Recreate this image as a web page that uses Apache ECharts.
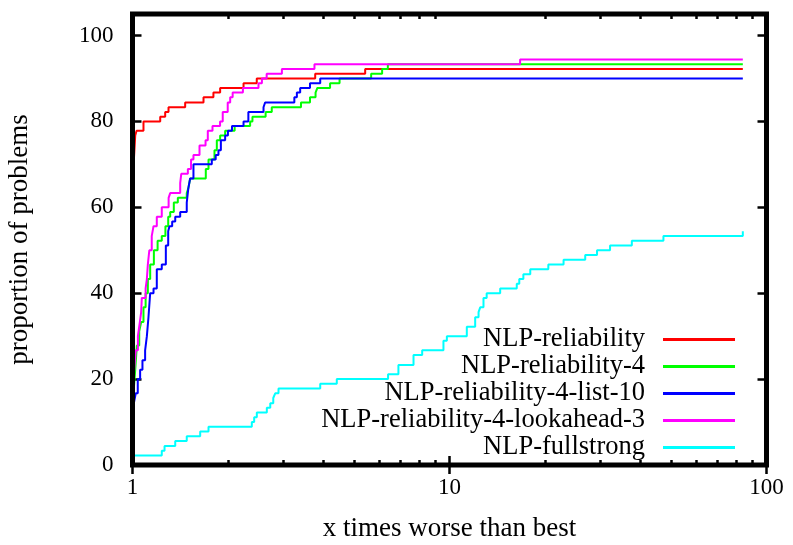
<!DOCTYPE html>
<html><head><meta charset="utf-8">
<script src="https://cdn.jsdelivr.net/npm/echarts@6/dist/echarts.min.js"></script>
<style>html,body{margin:0;padding:0;background:#fff}#c{width:793px;height:545px}</style>
</head><body><div id="c"></div>
<script>
const seriesNames = ['NLP-reliability', 'NLP-reliability-4', 'NLP-reliability-4-list-10', 'NLP-reliability-4-lookahead-3', 'NLP-fullstrong'];
const seriesColors = ['#ff0000', '#00ff00', '#0000ff', '#ff00ff', '#00ffff'];

const redX = [1, 1.005, 1.01, 1.02, 1.03, 1.083, 1.223, 1.268, 1.299, 1.466, 1.675, 1.8, 1.89, 2.24, 2.466, 3.77, 5.42, 84.2];
const redY = [64.4, 68.9, 71.1, 76.7, 77.8, 80, 81.1, 82.2, 83.3, 84.4, 85.6, 86.7, 87.8, 88.9, 90, 91.1, 92.2, 92.2];

const greenX = [1, 1.007, 1.02, 1.032, 1.05, 1.065, 1.083, 1.10, 1.118, 1.137, 1.168, 1.2, 1.237, 1.27, 1.296, 1.315, 1.35, 1.39, 1.483, 1.50, 1.52, 1.703, 1.737, 1.814, 1.845, 1.89, 1.96, 2.10, 2.35, 2.39, 2.63, 2.75, 3.4, 3.63, 3.78, 3.83, 4.2, 4.5, 5.66, 6.13, 6.39, 84.2];
const greenY = [12.2, 16.7, 22.2, 27.8, 31.1, 33.3, 36.7, 40, 43.3, 46.7, 50, 52.2, 53.3, 55.6, 57.8, 58.9, 61.1, 62.2, 63.3, 64.4, 66.7, 68.9, 71.1, 73.3, 75.6, 76.7, 77.8, 78.9, 80, 81.1, 82.2, 83.3, 84.4, 85.6, 86.7, 87.8, 88.9, 90, 91.1, 92.2, 93.3, 93.3];

const blueX = [1, 1.01, 1.024, 1.039, 1.057, 1.075, 1.096, 1.11, 1.123, 1.137, 1.165, 1.193, 1.237, 1.274, 1.296, 1.308, 1.334, 1.364, 1.414, 1.483, 1.50, 1.52, 1.557, 1.779, 1.83, 1.867, 1.9, 1.96, 2.0, 2.06, 2.24, 2.32, 2.59, 2.62, 3.24, 3.30, 3.38, 3.63, 3.91, 84.2];
const blueY = [11.1, 14.4, 16.7, 20, 22.2, 24.4, 26.7, 30, 34.4, 40, 41.1, 45.6, 46.7, 51.1, 54.4, 55.6, 56.7, 57.8, 58.9, 61.1, 64.4, 66.7, 70, 71.1, 72.2, 73.3, 75.6, 76.7, 77.8, 78.9, 80, 82.2, 83.3, 84.4, 85.6, 86.7, 87.8, 88.9, 90, 90];

const magentaX = [1, 1.007, 1.015, 1.024, 1.04, 1.055, 1.065, 1.07, 1.10, 1.11, 1.118, 1.13, 1.15, 1.165, 1.193, 1.237, 1.30, 1.315, 1.414, 1.425, 1.495, 1.53, 1.557, 1.627, 1.70, 1.728, 1.788, 1.889, 1.926, 1.997, 2.033, 2.07, 2.23, 2.497, 2.56, 2.65, 2.96, 3.75, 16.7, 84.2];
const magentaY = [16.7, 20, 23.3, 26.7, 30, 33.3, 35.6, 38.9, 41.1, 43.3, 46.7, 50, 53.3, 55.6, 57.8, 60, 62.2, 63.3, 65.6, 67.8, 68.9, 71.1, 72.2, 74.4, 75.6, 77.8, 78.9, 80, 82.2, 84.4, 85.6, 86.7, 87.8, 88.9, 90, 91.1, 92.2, 93.3, 94.4, 94.4];

const cyanX = [1, 1.237, 1.262, 1.364, 1.483, 1.635, 1.737, 2.379, 2.42, 2.467, 2.653, 2.72, 2.78, 2.82, 2.888, 3.91, 4.41, 6.4, 6.9, 7.7, 8.2, 9.57, 9.81, 11.34, 12.05, 12.35, 12.5, 12.8, 13.1, 14.45, 16.3, 16.6, 17.1, 17.98, 20.5, 22.9, 26.8, 29.2, 32.1, 37.6, 47.3, 84.2];
const cyanY = [2.2, 3.3, 4.4, 5.6, 6.7, 7.8, 8.9, 10, 11.1, 12.2, 13.3, 14.4, 15.6, 16.7, 17.8, 18.9, 20, 21.1, 23.3, 25.6, 26.7, 28.9, 30, 32.2, 34.4, 35.6, 36.7, 38.9, 40, 41.1, 42.2, 43.3, 44.4, 45.6, 46.7, 47.8, 48.9, 50, 51.1, 52.2, 53.3, 54.4];

const xMajorTicks = [1, 10, 100];
const xMinorTicks = [2, 3, 4, 5, 6, 7, 8, 9, 20, 30, 40, 50, 60, 70, 80, 90];
const yTicks = [0, 20, 40, 60, 80, 100];

const FONT = 'Liberation Serif';
const seriesX = [redX, greenX, blueX, magentaX, cyanX];
const seriesY = [redY, greenY, blueY, magentaY, cyanY];

const series = seriesNames.map((name, i) => ({
  name: name,
  type: 'line',
  step: 'end',
  xAxisIndex: 0,
  yAxisIndex: 0,
  showSymbol: false,
  symbol: 'none',
  color: seriesColors[i],
  lineStyle: { width: 2, color: seriesColors[i] },
  data: seriesX[i].map((x, k) => [x, seriesY[i][k]]),
  z: 2 + i
}));

const gridRect = { left: 132.5, top: 14, width: 634, height: 451, outerBoundsMode: 'none', containLabel: false };
const tickStyle = { color: '#000', width: 2.5 };

function xAx(grid, pos, ticks, len, labels) {
  return {
    gridIndex: grid, type: 'log', logBase: 10, min: 1, max: 100, position: pos,
    axisLine: { show: false },
    axisTick: { show: true, inside: true, length: len, lineStyle: tickStyle, customValues: ticks },
    axisLabel: labels ? { show: true, customValues: ticks, margin: 11, fontFamily: FONT, fontSize: 23, color: '#000' } : { show: false },
    splitLine: { show: false }, minorTick: { show: false }, minorSplitLine: { show: false }
  };
}

const chart = echarts.init(document.getElementById('c'), null, { renderer: 'canvas' });
const xAxes = [
  Object.assign(xAx(0, 'bottom', xMajorTicks, 9, true), {
    name: 'x times worse than best', nameLocation: 'middle', nameGap: 50,
    nameTextStyle: { fontFamily: FONT, fontSize: 27, color: '#000' }
  }),
  xAx(0, 'top', xMajorTicks, 9, false),
  xAx(1, 'bottom', xMinorTicks, 5, false),
  xAx(1, 'top', xMinorTicks, 5, false)
];
const yAxes = [
  {
    gridIndex: 0, type: 'value', min: 0, max: 105, position: 'left',
    axisLine: { show: false },
    axisTick: { show: true, inside: true, length: 9, lineStyle: tickStyle, customValues: yTicks },
    axisLabel: { show: true, customValues: yTicks, margin: 19, fontFamily: FONT, fontSize: 23, color: '#000' },
    splitLine: { show: false },
    name: 'proportion of problems', nameLocation: 'middle', nameGap: 99,
    nameTextStyle: { fontFamily: FONT, fontSize: 27, color: '#000' }
  },
  {
    gridIndex: 0, type: 'value', min: 0, max: 105, position: 'right',
    axisLine: { show: false },
    axisTick: { show: true, inside: true, length: 9, lineStyle: tickStyle, customValues: yTicks },
    axisLabel: { show: false }, splitLine: { show: false }
  },
  { gridIndex: 1, type: 'value', min: 0, max: 105, show: false, splitLine: { show: false } }
];

chart.setOption({
  animation: false,
  backgroundColor: '#fff',
  grid: [
    Object.assign({ show: true, borderWidth: 5, borderColor: '#000', backgroundColor: 'transparent', z: 10 }, gridRect),
    Object.assign({ show: false }, gridRect)
  ],
  xAxis: xAxes,
  yAxis: yAxes,
  legend: {
    data: seriesNames,
    orient: 'vertical',
    align: 'right',
    right: 53,
    top: 321,
    icon: 'rect',
    itemWidth: 72,
    itemHeight: 3,
    itemGap: 0,
    textStyle: { fontFamily: FONT, fontSize: 26.5, color: '#000', lineHeight: 24, padding: [0, 13, 0, 0] },
    selectedMode: false
  },
  series: series
});
</script>
</body></html>
